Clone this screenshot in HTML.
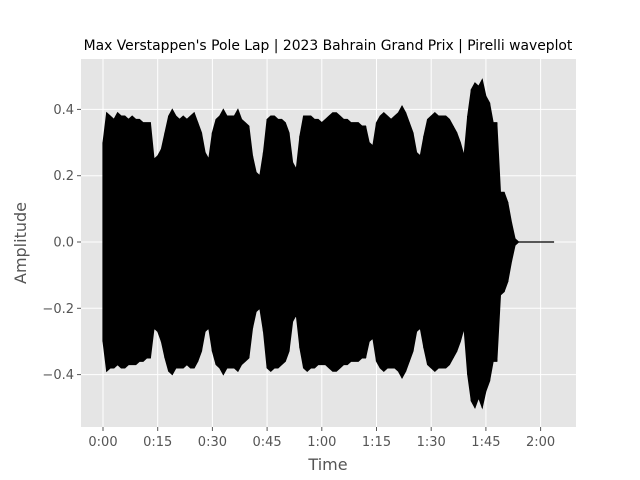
<!DOCTYPE html>
<html><head><meta charset="utf-8">
<style>
body{margin:0;background:#fff;}
svg{display:block;font-family:"DejaVu Sans","Liberation Sans",sans-serif;}
</style></head>
<body>
<svg id="chart" width="640" height="480">
<rect x="0" y="0" width="640" height="480" fill="#fff"/>
<rect x="81" y="59" width="495" height="368" fill="#e5e5e5"/>
<g id="grid"></g>
<g id="wave"></g>
<g id="ticks"></g>
<text x="328" y="50" text-anchor="middle" font-size="13.9" fill="#000">Max Verstappen's Pole Lap | 2023 Bahrain Grand Prix | Pirelli waveplot</text>
<text x="328" y="470" text-anchor="middle" font-size="16" fill="#555">Time</text>
<text transform="translate(26,243) rotate(-90)" text-anchor="middle" font-size="16" fill="#555">Amplitude</text>
</svg>
<script>
const xTicks=[0,15,30,45,60,75,90,105,120];
const xTickLabels=["0:00","0:15","0:30","0:45","1:00","1:15","1:30","1:45","2:00"];
const yTicks=[-0.4,-0.2,0,0.2,0.4];
const yTickLabels=["\u22120.4","\u22120.2","0.0","0.2","0.4"];
const upperAmp=[0.30,0.39,0.38,0.37,0.39,0.38,0.38,0.37,0.38,0.37,0.37,0.36,0.36,0.36,0.25,0.26,0.28,0.33,0.38,0.40,0.38,0.37,0.38,0.37,0.38,0.39,0.36,0.33,0.27,0.25,0.33,0.37,0.38,0.40,0.38,0.38,0.38,0.40,0.37,0.36,0.35,0.26,0.21,0.20,0.27,0.37,0.38,0.38,0.37,0.37,0.36,0.33,0.24,0.22,0.32,0.38,0.38,0.38,0.37,0.37,0.36,0.37,0.38,0.39,0.39,0.38,0.37,0.37,0.36,0.36,0.36,0.35,0.35,0.30,0.29,0.36,0.38,0.39,0.38,0.37,0.38,0.39,0.41,0.39,0.36,0.33,0.27,0.26,0.32,0.37,0.38,0.39,0.38,0.38,0.38,0.37,0.35,0.33,0.30,0.26,0.38,0.46,0.48,0.47,0.49,0.44,0.42,0.36,0.36,0.15,0.15,0.12,0.06,0.01,0.0];
const lowerAmp=[-0.30,-0.39,-0.38,-0.38,-0.37,-0.38,-0.38,-0.37,-0.37,-0.37,-0.36,-0.36,-0.35,-0.35,-0.26,-0.27,-0.30,-0.35,-0.39,-0.40,-0.38,-0.38,-0.38,-0.37,-0.38,-0.38,-0.36,-0.33,-0.27,-0.26,-0.33,-0.37,-0.38,-0.40,-0.38,-0.38,-0.38,-0.39,-0.37,-0.36,-0.35,-0.26,-0.21,-0.20,-0.27,-0.38,-0.39,-0.38,-0.38,-0.37,-0.36,-0.33,-0.24,-0.22,-0.32,-0.38,-0.39,-0.38,-0.38,-0.37,-0.37,-0.37,-0.38,-0.39,-0.39,-0.38,-0.37,-0.37,-0.36,-0.36,-0.36,-0.35,-0.35,-0.30,-0.29,-0.36,-0.38,-0.39,-0.38,-0.38,-0.38,-0.39,-0.41,-0.39,-0.36,-0.33,-0.27,-0.26,-0.32,-0.37,-0.38,-0.39,-0.38,-0.38,-0.38,-0.37,-0.35,-0.33,-0.30,-0.26,-0.40,-0.48,-0.50,-0.47,-0.50,-0.45,-0.42,-0.36,-0.36,-0.16,-0.15,-0.12,-0.06,-0.01,0.0];
const endTime=123.7;

const NS="http://www.w3.org/2000/svg";
const X0=103, PXS=54.7/15, Y0=242, PXU=331.5;
function xs(t){return X0+t*PXS;}
function ys(v){return Y0-v*PXU;}
function mk(tag,attrs,parent){const e=document.createElementNS(NS,tag);for(const k in attrs)e.setAttribute(k,attrs[k]);parent.appendChild(e);return e;}

const grid=document.getElementById('grid'), ticks=document.getElementById('ticks'), wave=document.getElementById('wave');
xTicks.forEach((t,i)=>{
  const x=xs(t);
  const g=mk('line',{x1:x,x2:x,y1:59,y2:427,stroke:'#fff','stroke-width':1},grid);
  
  
  mk('line',{x1:x,x2:x,y1:427,y2:431,stroke:'#555','stroke-width':1},ticks);
  const l=mk('text',{x:x,y:446,'text-anchor':'middle','font-size':13,fill:'#555'},ticks);
  l.textContent=xTickLabels[i];
  
  
});
yTicks.forEach((v,i)=>{
  const y=ys(v);
  const g=mk('line',{x1:81,x2:576,y1:y,y2:y,stroke:'#fff','stroke-width':1},grid);
  
  
  mk('line',{x1:77,x2:81,y1:y,y2:y,stroke:'#555','stroke-width':1},ticks);
  const l=mk('text',{x:74,y:y+4.5,'text-anchor':'end','font-size':13,fill:'#555'},ticks);
  l.textContent=yTickLabels[i];
  
  
});
let d='M'+xs(0)+','+ys(0);
upperAmp.forEach((v,i)=>{d+=' L'+xs(i)+','+ys(v);});
for(let i=lowerAmp.length-1;i>=0;i--){d+=' L'+xs(i)+','+ys(lowerAmp[i]);}
d+=' Z';
const p=mk('path',{d:d,fill:'#000',stroke:'#000','stroke-width':1,'stroke-linejoin':'miter'},wave);


upperAmp.forEach((v,i)=>{
  const s=mk('line',{x1:xs(i),x2:xs(i),y1:ys(v),y2:ys(lowerAmp[i]),stroke:'#000','stroke-width':1.2},wave);
  
  
});
const tail=mk('line',{x1:xs(upperAmp.length-1),x2:xs(endTime),y1:ys(0),y2:ys(0),stroke:'#000','stroke-width':1.2},wave);


</script>
</body></html>
